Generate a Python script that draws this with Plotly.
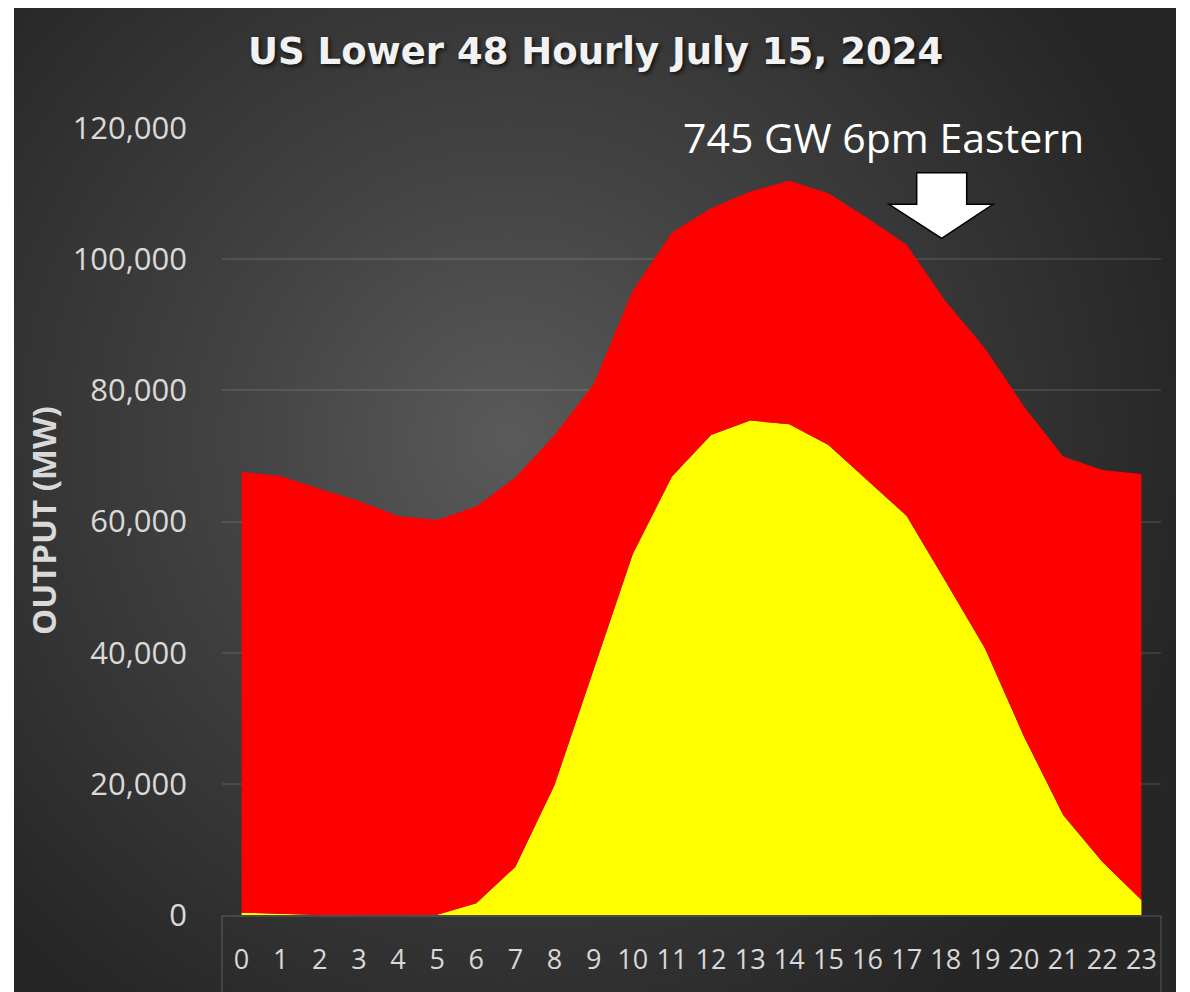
import base64
import plotly.graph_objects as go

W, H = 1190, 992
OFF = 8  # page body margin around the plot div

# hourly generation, MW
hours = list(range(24))
solar_mw = [350, 150, 0, 0, 0, 50, 1780, 7370, 19830, 37600, 55060, 66850,
            73200, 75390, 74830, 71680, 66340, 60850, 50830, 40670, 27190, 15250, 8130, 2290]
wind_mw = [67210, 66800, 64970, 63140, 60850, 60190, 60520, 59320, 53370, 43380, 40150, 37210,
           34580, 34920, 37110, 38380, 39880, 41330, 42700, 45750, 50330, 54650, 59740, 64970]
y_ticks = [0, 20000, 40000, 60000, 80000, 100000, 120000]
hour_labels = [str(h) for h in hours]

title_text = "US Lower 48 Hourly July 15, 2024"
note_text = "745 GW 6pm Eastern"
y_title = "OUTPUT (MW)"

# plot area in page pixels
X0, X1 = 222, 1161
Y_TOP, Y_BOT = 128, 915


def px(x):
    return (x - OFF) / W


def py(y):
    return 1 - (y - OFF) / H


# dark panel with radial gradient, drawn as an svg behind the plot
svg = f'''<svg xmlns="http://www.w3.org/2000/svg" width="{W}" height="{H}" viewBox="{OFF} {OFF} {W} {H}">
<defs>
<radialGradient id="g" gradientUnits="userSpaceOnUse" cx="510" cy="440" r="690">
<stop offset="0" stop-color="#5a5a5a"/>
<stop offset="0.4" stop-color="#434343"/>
<stop offset="1" stop-color="#262626"/>
</radialGradient>
</defs>
<rect x="0" y="0" width="{W + OFF}" height="{H + OFF}" fill="#ffffff"/>
<rect x="14" y="3" width="1162" height="{H + 10}" rx="5" fill="url(#g)"/>
</svg>'''
bg_src = "data:image/svg+xml;base64," + base64.b64encode(svg.encode()).decode()

fig = go.Figure()

fig.add_trace(go.Scatter(x=hours, y=solar_mw, name="Solar", mode="lines",
                         stackgroup="one", line=dict(width=0, color="#FFFF00"),
                         fillcolor="#FFFF00", hoverinfo="x+y"))
fig.add_trace(go.Scatter(x=hours, y=wind_mw, name="Wind", mode="lines",
                         stackgroup="one", line=dict(width=0, color="#FF0000"),
                         fillcolor="#FF0000", hoverinfo="x+y"))

fig.update_layout(
    width=W, height=H,
    margin=dict(l=0, r=0, t=0, b=0, autoexpand=False),
    paper_bgcolor="rgba(0,0,0,0)",
    plot_bgcolor="rgba(0,0,0,0)",
    showlegend=False,
    font=dict(family="Open Sans", color="#d9d9d9"),
    images=[dict(source=bg_src, xref="paper", yref="paper", x=0, y=1,
                 sizex=1, sizey=1, xanchor="left", yanchor="top",
                 sizing="stretch", layer="below")],
)

fig.update_xaxes(
    domain=[px(X0), px(X1)], range=[-0.5, 23.5], automargin=False,
    tickvals=hours, ticktext=hour_labels,
    showgrid=False, zeroline=False, showline=False, ticks="",
    tickfont=dict(family="Open Sans", size=27, color="#d9d9d9"),
    ticklabelstandoff=26,
)
fig.update_yaxes(
    domain=[py(Y_BOT), py(Y_TOP)], range=[0, 120000], automargin=False,
    tickvals=y_ticks, tickformat=",",
    showgrid=True, gridcolor="rgba(255,255,255,0.10)", gridwidth=1.5,
    zeroline=False, showline=False, ticks="",
    tickfont=dict(family="Open Sans", size=31, color="#d9d9d9"),
    ticklabelstandoff=34,
)

# axis line and label box
box = dict(color="rgba(255,255,255,0.16)", width=1.5)
fig.add_shape(type="line", xref="paper", yref="paper",
              x0=px(X0), x1=px(X1), y0=py(Y_BOT + 1), y1=py(Y_BOT + 1), line=box)
fig.add_shape(type="line", xref="paper", yref="paper",
              x0=px(X0), x1=px(X0), y0=py(Y_BOT + 1), y1=0, line=box)
fig.add_shape(type="line", xref="paper", yref="paper",
              x0=px(X1), x1=px(X1), y0=py(Y_BOT + 1), y1=0, line=box)

# down arrow over the 6pm peak
arrow_pts = [(916.7, 172.7), (966.7, 172.7), (966.7, 204.3), (993, 204.3),
             (941.7, 238.3), (889, 204.3), (916.7, 204.3)]
path = "M " + " L ".join(f"{px(x):.5f},{py(y):.5f}" for x, y in arrow_pts) + " Z"
fig.add_shape(type="path", xref="paper", yref="paper", path=path,
              fillcolor="#ffffff", line=dict(color="#000000", width=1.5))

fig.add_annotation(text=title_text, xref="paper", yref="paper",
                   x=px(595), y=py(52), xanchor="center", yanchor="middle",
                   showarrow=False,
                   font=dict(family="DejaVu Sans", size=37, color="#f2f2f2",
                             weight="bold", shadow="2px 2px 4px rgba(0,0,0,0.7)"))
fig.add_annotation(text=note_text, xref="paper", yref="paper",
                   x=px(883), y=py(137), xanchor="center", yanchor="middle",
                   showarrow=False,
                   font=dict(family="Open Sans", size=41, color="#ffffff"))
fig.add_annotation(text=y_title, xref="paper", yref="paper",
                   x=px(43), y=py(521), xanchor="center", yanchor="middle",
                   showarrow=False, textangle=-90,
                   font=dict(family="Open Sans", size=33, color="#d9d9d9",
                             weight="bold"))

fig.write_html("out.html")
